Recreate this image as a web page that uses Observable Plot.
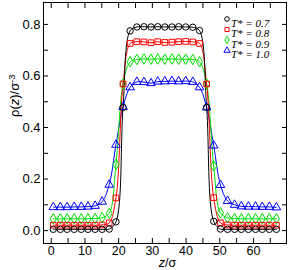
<!DOCTYPE html>
<html><head><meta charset="utf-8">
<script src="https://cdn.jsdelivr.net/npm/d3@7"></script>
<script src="https://cdn.jsdelivr.net/npm/@observablehq/plot@0.6"></script>
<style>body{margin:0;background:#fff;} #chart svg{display:block;}</style>
</head><body><div id="chart"></div>
<script>
const zValues = [0.6, 2.7, 4.7, 6.8, 8.9, 10.9, 13.0, 15.1, 17.2, 19.2, 21.3, 23.4, 25.4, 27.5, 29.6, 31.6, 33.7, 35.8, 37.8, 39.9, 42.0, 44.0, 46.1, 48.2, 50.2, 52.3, 54.4, 56.4, 58.5, 60.6, 62.6, 64.7, 66.8];
const rhoT07 = [0.005, 0.005, 0.005, 0.005, 0.005, 0.005, 0.005, 0.005, 0.006, 0.034, 0.478, 0.775, 0.790, 0.791, 0.790, 0.791, 0.790, 0.790, 0.791, 0.790, 0.789, 0.776, 0.478, 0.036, 0.006, 0.005, 0.005, 0.005, 0.005, 0.005, 0.005, 0.005, 0.005];
const rhoT08 = [0.021, 0.021, 0.021, 0.021, 0.021, 0.021, 0.021, 0.022, 0.030, 0.127, 0.569, 0.726, 0.733, 0.732, 0.729, 0.733, 0.730, 0.731, 0.733, 0.734, 0.732, 0.726, 0.569, 0.128, 0.030, 0.022, 0.021, 0.021, 0.021, 0.021, 0.021, 0.021, 0.021];
const rhoT09 = [0.046, 0.046, 0.046, 0.046, 0.046, 0.046, 0.047, 0.050, 0.067, 0.257, 0.569, 0.655, 0.664, 0.666, 0.665, 0.666, 0.665, 0.666, 0.665, 0.665, 0.664, 0.655, 0.569, 0.251, 0.069, 0.050, 0.047, 0.046, 0.046, 0.046, 0.046, 0.046, 0.046];
const rhoT10 = [0.091, 0.091, 0.091, 0.092, 0.092, 0.093, 0.096, 0.112, 0.178, 0.333, 0.480, 0.556, 0.577, 0.576, 0.572, 0.578, 0.579, 0.580, 0.579, 0.580, 0.577, 0.556, 0.478, 0.330, 0.177, 0.115, 0.100, 0.094, 0.093, 0.093, 0.092, 0.092, 0.090];
const seriesNames = ["T* = 0.7", "T* = 0.8", "T* = 0.9", "T* = 1.0"];
const seriesValues = [rhoT07, rhoT08, rhoT09, rhoT10];
const seriesColors = ["#000000", "#ff0000", "#00e000", "#0000ff"];
const seriesSymbols = ["circle", "square", "diamond", "triangle"];
const xTickLabels = [0, 10, 20, 30, 40, 50, 60];
const xTickMarks = [0, 5, 10, 15, 20, 25, 30, 35, 40, 45, 50, 55, 60, 65];
const yTickLabels = [0, 0.2, 0.4, 0.6, 0.8];
const yTickMarks = [0, 0.1, 0.2, 0.3, 0.4, 0.5, 0.6, 0.7, 0.8];
const xLabel = "z/σ";
const yLabel = "ρ(z)/σ-3";

// draw blue first so black ends on top
const rows = [];
for (let s = seriesNames.length - 1; s >= 0; s--) {
  zValues.forEach((z, i) => rows.push({z, rho: seriesValues[s][i], series: seriesNames[s]}));
}

const sans = "Liberation Sans, Arial, sans-serif";
const legendMarks = seriesNames.flatMap((name, i) => [
  Plot.dot([name], {frameAnchor: "top-right", dx: -59.5, dy: 16.5 + 10.5 * i, symbol: d => d, stroke: d => d, fill: "none", r: 2.3, strokeWidth: 1}),
  Plot.text([name], {frameAnchor: "top-right", dx: -55.5, dy: 16.5 + 10.5 * i, textAnchor: "start", fontFamily: "Liberation Serif, Times New Roman, serif", fontStyle: "italic", fontSize: 11, fill: "#000"})
]);

const chart = Plot.plot({
  width: 288,
  height: 270,
  marginLeft: 43,
  marginRight: 2,
  marginTop: 2,
  marginBottom: 27,
  style: {fontFamily: sans, background: "#fff", overflow: "visible"},
  x: {domain: [-2.3, 69.8], label: null},
  y: {domain: [-0.05, 0.885], label: null},
  color: {domain: seriesNames, range: seriesColors},
  symbol: {domain: seriesNames, range: seriesSymbols},
  marks: [
    Plot.line(rows, {x: "z", y: "rho", z: "series", stroke: "series", curve: "catmull-rom", strokeWidth: 1}),
    Plot.dot(rows, {x: "z", y: "rho", stroke: "series", symbol: "series", fill: "none", r: 3.2, strokeWidth: 1}),
    Plot.frame({stroke: "#000", strokeWidth: 1}),
    Plot.axisX(xTickMarks, {anchor: "bottom", tickSize: -5, tickFormat: () => "", label: null, stroke: "#000"}),
    Plot.axisX(xTickMarks, {anchor: "top", tickSize: -5, tickFormat: () => "", label: null, stroke: "#000"}),
    Plot.axisY(yTickMarks, {anchor: "left", tickSize: -5, tickFormat: () => "", label: null, stroke: "#000"}),
    Plot.axisY(yTickMarks, {anchor: "right", tickSize: -5, tickFormat: () => "", label: null, stroke: "#000"}),
    Plot.axisX(xTickLabels, {anchor: "bottom", tickSize: 0, tickPadding: 3, label: null, fontSize: 12.5, fill: "#000"}),
    Plot.axisY(yTickLabels, {anchor: "left", tickSize: 0, tickPadding: 3, label: null, fontSize: 13, fill: "#000"}),
    Plot.text([yLabel], {frameAnchor: "left", dx: -29, dy: -6, rotate: -90, fontSize: 13, fill: "#000"}),
    Plot.text([xLabel], {frameAnchor: "bottom", dx: 2.5, dy: 23, fontSize: 12.5, fill: "#000"}),
    ...legendMarks
  ]
});
document.getElementById("chart").appendChild(chart);

// italic z and superscript in axis titles
d3.select(chart).selectAll("text").each(function () {
  const t = this.textContent;
  if (t === yLabel) {
    this.innerHTML = 'ρ(<tspan font-style="italic">z</tspan>)/σ<tspan dy="-0.45em" font-size="0.7em">-3</tspan>';
  } else if (t === xLabel) {
    this.innerHTML = '<tspan font-style="italic">z</tspan>/σ';
  }
});
</script>
</body></html>
